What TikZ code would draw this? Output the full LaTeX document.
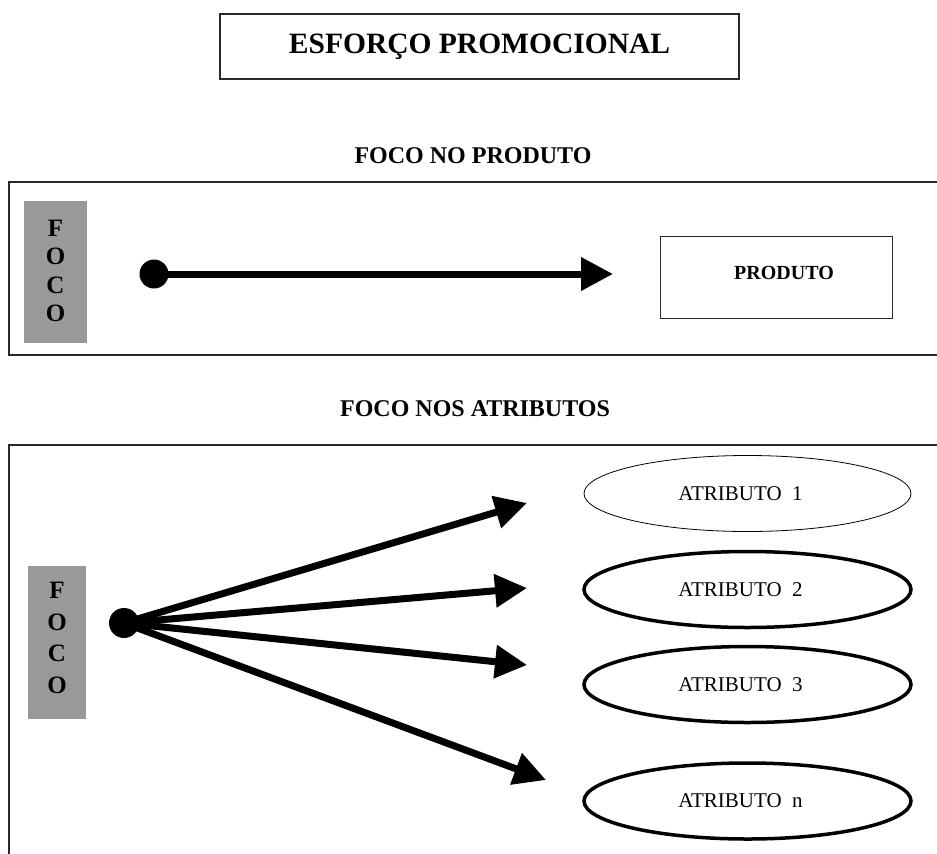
\documentclass[tikz,border=0pt]{standalone}
\usepackage{fontspec}
\setmainfont{Liberation Serif}
\usetikzlibrary{arrows.meta,shapes.geometric}
\definecolor{focogray}{RGB}{153,153,153}
\definecolor{framecol}{RGB}{40,40,40}
\begin{document}
\begin{tikzpicture}[x=1pt,y=-1pt,
  frameline/.style={draw=framecol, line width=1.3pt},
  focobox/.style={fill=focogray, draw=none, inner sep=0pt},
  fococol/.style={font=\bfseries\fontsize{25}{#1}\selectfont, align=center, inner sep=0pt},
  dotnode/.style={circle, fill=black, inner sep=0pt, minimum size=#1},
  bigarrow/.style={line width=7pt, -{Triangle[length=32pt,width=32pt]}},
  attr/.style={ellipse, draw=black, minimum width=327pt, minimum height=76pt, inner sep=0pt},
  attrtext/.style={font=\fontsize{21}{23}\selectfont, inner sep=0pt},
  heading/.style={font=\bfseries\fontsize{24}{26}\selectfont, anchor=base, inner sep=0pt},
]
\useasboundingbox (0,0) rectangle (937,854);

% title
\node[draw=framecol, line width=1.2pt, minimum width=519pt, minimum height=65pt, inner sep=0pt,
      font=\bfseries\fontsize{29.5}{32}\selectfont] (title) at (479.5,46.5) {ESFORÇO PROMOCIONAL};

% upper panel
\node[heading] (h1) at (473,163) {FOCO NO PRODUTO};
\draw[frameline] (937,182) -- (9,182) -- (9,355) -- (937,355);
\node[focobox, minimum width=63pt, minimum height=142pt] (g1) at (55.5,272) {};
\node[fococol=28.5] (f1) at (55.5,271) {F\\O\\C\\O};
\node[dotnode=29pt] (d1) at (154,274) {};
\coordinate (t0) at (613,274);
\draw[bigarrow] (d1.center) -- (t0);
\node[draw=framecol, line width=0.8pt, minimum width=232pt, minimum height=82pt, inner sep=0pt] (prod) at (776,277) {};
\node[font=\bfseries\fontsize{20}{22}\selectfont, inner sep=0pt] (prodtext) at (784,273) {PRODUTO};

% lower panel
\node[heading] (h2) at (475,416) {FOCO NOS ATRIBUTOS};
\draw[frameline] (937,445) -- (9,445) -- (9,854);
\node[focobox, minimum width=58pt, minimum height=153pt] (g2) at (57,642.5) {};
\node[fococol=31.5] (f2) at (57,638) {F\\O\\C\\O};
\node[dotnode=30pt] (d2) at (124,623) {};

\node[attr, line width=0.8pt] (a1) at (747.5,493.5) {};
\node[attr, line width=3.5pt] (a2) at (747.5,589.5) {};
\node[attr, line width=3.5pt] (a3) at (747.5,684.5) {};
\node[attr, line width=3.5pt] (a4) at (747.5,801) {};
\node[attrtext] (l1) at ([xshift=-7pt]a1.center) {ATRIBUTO\ \ 1};
\node[attrtext] (l2) at ([xshift=-7pt]a2.center) {ATRIBUTO\ \ 2};
\node[attrtext] (l3) at ([xshift=-7pt]a3.center) {ATRIBUTO\ \ 3};
\node[attrtext] (l4) at ([xshift=-7pt]a4.center) {ATRIBUTO\ \ n};

\coordinate (t1) at (527,503);
\coordinate (t2) at (527,588);
\coordinate (t3) at (527,665);
\coordinate (t4) at (546,780);
\draw[bigarrow] (d2.center) -- (t1);
\draw[bigarrow] (d2.center) -- (t2);
\draw[bigarrow] (d2.center) -- (t3);
\draw[bigarrow] (d2.center) -- (t4);
\end{tikzpicture}
\end{document}
